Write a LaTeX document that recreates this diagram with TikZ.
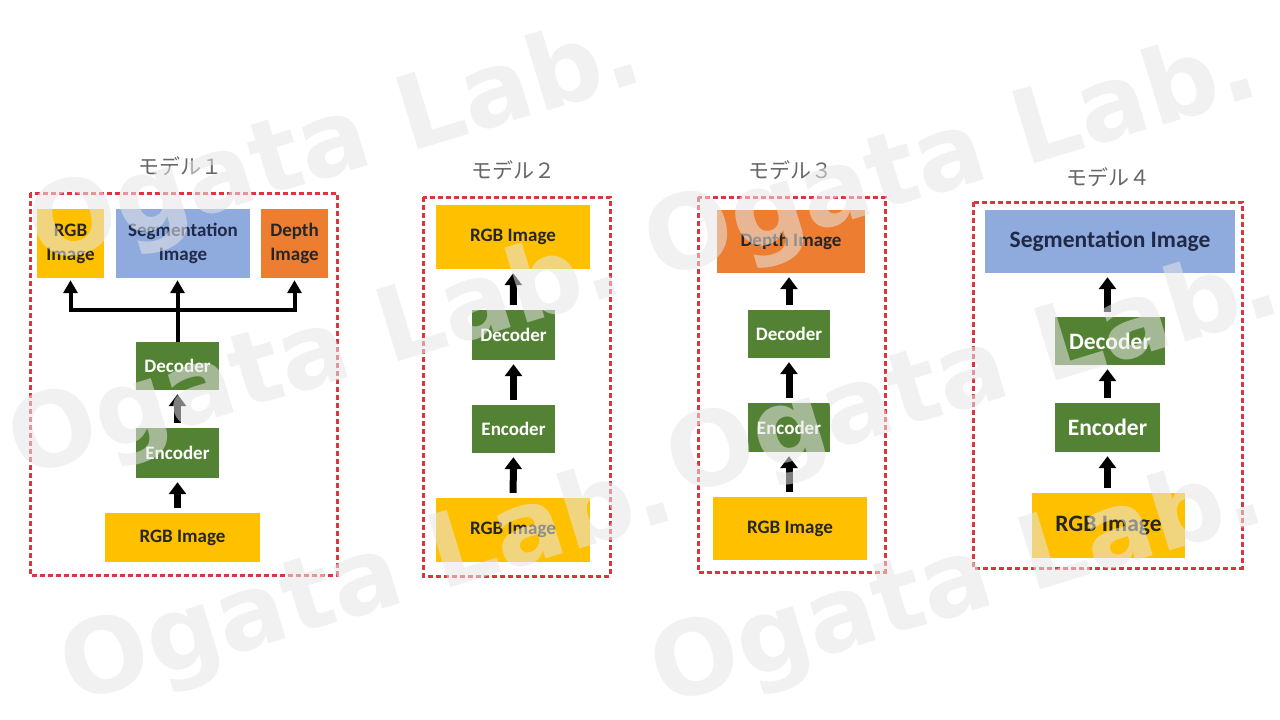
\documentclass[tikz,border=0pt]{standalone}
\usepackage{fontspec}
\setmainfont{Carlito}
\newfontfamily\cjk{Noto Sans CJK JP}
\newfontfamily\wmfont{DejaVu Sans}
\usetikzlibrary{arrows.meta}

\definecolor{imgyellow}{RGB}{255,192,0}
\definecolor{imgblue}{RGB}{143,170,220}
\definecolor{imgorange}{RGB}{237,125,49}
\definecolor{netgreen}{RGB}{84,130,53}
\definecolor{framered}{RGB}{222,52,62}
\definecolor{segtext}{RGB}{32,42,72}
\definecolor{wmgray}{RGB}{230,230,230}

\newcommand{\boxfont}{\bfseries\fontsize{19}{24}\selectfont}
\newcommand{\bigboxfont}{\bfseries\fontsize{23.5}{28}\selectfont}

\tikzset{
	blk/.style={inner sep=0pt, align=center, font=\boxfont},
	rgbimg/.style={blk, fill=imgyellow, text=black!85},
	segimg/.style={blk, fill=imgblue, text=segtext},
	depimg/.style={blk, fill=imgorange, text=black!85},
	net/.style={blk, fill=netgreen, text=white, minimum width=83pt},
	modelframe/.style={draw=framered, line width=3pt, dash pattern=on 5pt off 3pt},
	modeltitle/.style={font=\cjk\fontsize{21}{21}\selectfont, text=black!60},
	flow/.style={line width=7pt, -{Triangle[width=17pt,length=12pt]}, shorten <=5pt, shorten >=4pt},
	trunk/.style={line width=4pt},
	branch/.style={line width=4pt, -{Triangle[width=14pt,length=13pt]}, shorten >=2pt},
	wmark/.style={rotate=17, text=wmgray, text opacity=.55, font=\wmfont\bfseries\fontsize{103}{103}\selectfont}
}

\begin{document}
\begin{tikzpicture}[x=1pt,y=-1pt]
	\useasboundingbox[fill=white] (0,0) rectangle (1280,720);

	% model 1: one decoder, three outputs
	\node[modeltitle] (titleA) at (180,166) {モデル１};
	\draw[modelframe] (30,193) rectangle (337,575);
	\node[rgbimg, minimum width=67pt, minimum height=69pt] (rgbA) at (70.5,243.5) {RGB\\Image};
	\node[segimg, minimum width=134pt, minimum height=69pt] (segA) at (183,243.5) {Segmentation\\Image};
	\node[depimg, minimum width=67pt, minimum height=69pt] (depA) at (294.5,243.5) {Depth\\Image};
	\node[net, minimum height=48pt] (decA) at (177.5,366) {Decoder};
	\node[net, minimum height=50pt] (encA) at (177.5,453) {Encoder};
	\node[rgbimg, minimum width=155pt, minimum height=49pt] (inA) at (182.5,537.5) {RGB Image};
	\coordinate (hubA) at (177.5,310);

	\draw[flow] (encA.south |- inA.north) -- (encA.south);
	\draw[flow] (encA) -- (decA);
	\draw[trunk] (decA.north) -- (hubA);
	\draw[trunk, line cap=rect] (hubA -| rgbA.south) -- (hubA -| depA.south);
	\draw[branch] (hubA -| rgbA.south) -- (rgbA.south);
	\draw[branch] (hubA) -- (hubA |- segA.south);
	\draw[branch] (hubA -| depA.south) -- (depA.south);

	% model 2
	\node[modeltitle] (titleB) at (513,170) {モデル２};
	\draw[modelframe] (423,197) rectangle (610,576);
	\node[rgbimg, minimum width=154pt, minimum height=64pt] (outB) at (513,237) {RGB Image};
	\node[net, minimum height=50pt] (decB) at (513.5,335) {Decoder};
	\node[net, minimum height=48pt] (encB) at (513.5,429) {Encoder};
	\node[rgbimg, minimum width=154pt, minimum height=64pt] (inB) at (513,530) {RGB Image};
	\draw[flow] (inB) -- (encB);
	\draw[flow] (encB) -- (decB);
	\draw[flow] (decB) -- (outB);

	% model 3
	\node[modeltitle] (titleC) at (790,170) {モデル３};
	\draw[modelframe] (698,197) rectangle (885,572);
	\node[depimg, minimum width=148pt, minimum height=63pt] (outC) at (791,241.5) {Depth Image};
	\node[net, minimum width=82pt, minimum height=48pt] (decC) at (789,334) {Decoder};
	\node[net, minimum width=82pt, minimum height=49pt] (encC) at (789,427.5) {Encoder};
	\node[rgbimg, minimum width=154pt, minimum height=63pt] (inC) at (790,528.5) {RGB Image};
	\draw[flow] (encC.south |- inC.north) -- (encC.south);
	\draw[flow] (encC) -- (decC);
	\draw[flow] (decC.north) -- (decC.north |- outC.south);

	% model 4
	\node[modeltitle] (titleD) at (1108,177) {モデル４};
	\draw[modelframe] (973,202) rectangle (1242,568);
	\node[segimg, font=\bigboxfont, minimum width=250pt, minimum height=63pt] (outD) at (1110,241.5) {Segmentation Image};
	\node[net, font=\bigboxfont, minimum width=110pt, minimum height=48pt] (decD) at (1110,341) {Decoder};
	\node[net, font=\bigboxfont, minimum width=105pt, minimum height=49pt] (encD) at (1107.5,427.5) {Encoder};
	\node[rgbimg, font=\bigboxfont, minimum width=153pt, minimum height=65pt] (inD) at (1108.5,525.5) {RGB Image};
	\draw[flow] (encD.south |- inD.north) -- (encD.south);
	\draw[flow] (encD.north) -- (encD.north |- decD.south);
	\draw[flow] (encD.north |- decD.north) -- (encD.north |- outD.south);

	% watermark
	\foreach \cx/\cy [count=\i] in {336/146, 316/358, 368/584, 952/160, 974/377, 958/586}
		\node[wmark] (wm\i) at (\cx,\cy) {Ogata Lab.};
\end{tikzpicture}
\end{document}
